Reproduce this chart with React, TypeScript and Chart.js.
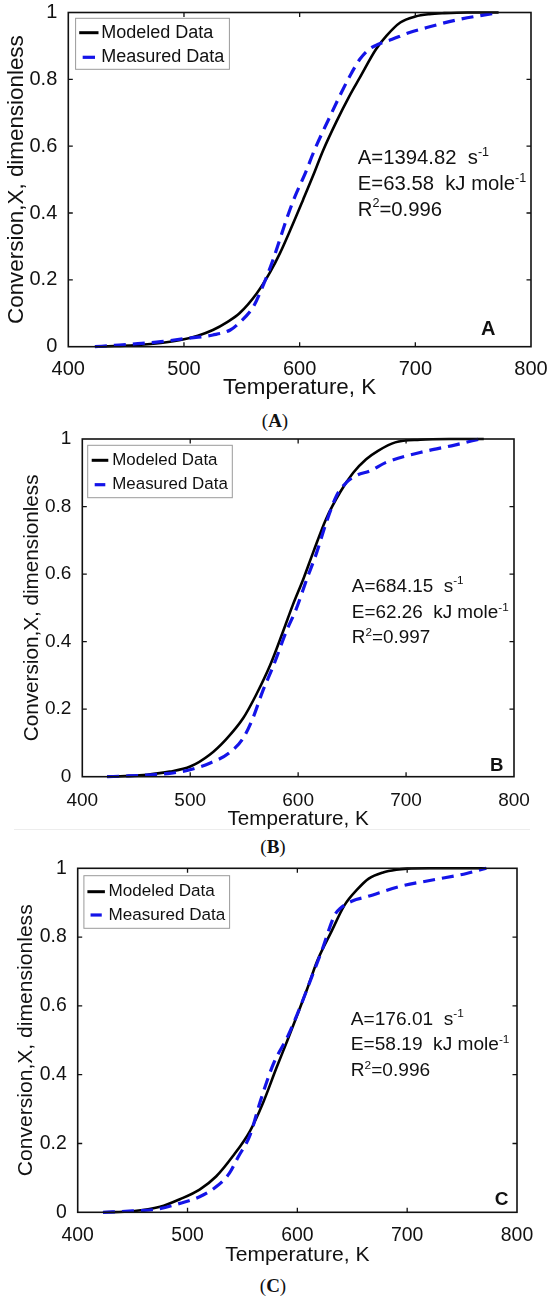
import React, { useEffect, useRef } from 'react';
import { Chart, registerables } from 'chart.js';

Chart.register(...registerables);

// ---------------- data ----------------
const seriesNames = ['Modeled Data', 'Measured Data'];
const xTicks = [400, 500, 600, 700, 800];
const yTicks = [0, 0.2, 0.4, 0.6, 0.8, 1];
const xTitle = 'Temperature, K';
const yTitle = 'Conversion,X, dimensionless';
const panelLetters = ['A', 'B', 'C'];
const paramA = ['1394.82', '684.15', '176.01'];
const paramE = ['63.58', '62.26', '58.19'];
const paramR2 = ['0.996', '0.997', '0.996'];

// Panel A
const tempModeledA = [423, 440, 460, 480, 497, 512, 525, 537, 548, 563, 574, 583, 592, 603, 612, 620, 632, 643, 652, 666, 675, 687, 700, 712, 725, 745, 772];
const convModeledA = [0, 0.002, 0.005, 0.011, 0.02, 0.033, 0.05, 0.073, 0.1, 0.16, 0.22, 0.28, 0.35, 0.44, 0.515, 0.585, 0.675, 0.75, 0.805, 0.89, 0.93, 0.97, 0.988, 0.995, 0.998, 1, 1];
const tempMeasuredA = [423, 440, 460, 480, 500, 525, 540, 548, 560, 568, 577, 589, 596, 605, 613, 625, 636, 645, 652, 660, 668, 680, 695, 710, 736, 772];
const convMeasuredA = [0, 0.004, 0.009, 0.015, 0.024, 0.035, 0.05, 0.072, 0.12, 0.18, 0.26, 0.385, 0.45, 0.52, 0.59, 0.68, 0.76, 0.82, 0.86, 0.89, 0.905, 0.92, 0.94, 0.955, 0.978, 1];

// Panel B
const tempModeledB = [423, 440, 460, 481, 500, 518, 533, 549, 561, 574, 586, 595, 605, 614, 626, 639, 651, 663, 674, 690, 713, 740, 772];
const convModeledB = [0, 0.002, 0.006, 0.015, 0.03, 0.065, 0.11, 0.173, 0.242, 0.33, 0.43, 0.508, 0.587, 0.665, 0.764, 0.843, 0.9, 0.94, 0.965, 0.99, 0.998, 1, 1];
const tempMeasuredB = [423, 440, 460, 481, 499, 518, 536, 549, 558, 567, 577, 589, 598, 608, 617, 626, 636, 645, 654, 667, 681, 713, 745, 768];
const convMeasuredB = [0, 0.002, 0.005, 0.01, 0.02, 0.04, 0.07, 0.114, 0.173, 0.252, 0.328, 0.43, 0.495, 0.585, 0.662, 0.752, 0.835, 0.872, 0.892, 0.906, 0.93, 0.96, 0.982, 1];

// Panel C
const tempModeledC = [423, 450, 475, 493, 511, 526, 541, 557, 569, 581, 591, 600, 609, 618, 631, 643, 655, 665, 678, 690, 700, 720, 772];
const convModeledC = [0, 0.003, 0.016, 0.038, 0.066, 0.104, 0.162, 0.237, 0.32, 0.42, 0.5, 0.574, 0.65, 0.73, 0.816, 0.893, 0.94, 0.97, 0.988, 0.996, 0.999, 1, 1];
const tempMeasuredC = [423, 450, 472, 493, 511, 526, 538, 546, 557, 566, 578, 591, 603, 612, 622, 634, 639, 650, 663, 693, 723, 754, 772];
const convMeasuredC = [0, 0.004, 0.009, 0.026, 0.045, 0.074, 0.113, 0.16, 0.225, 0.32, 0.43, 0.51, 0.6, 0.675, 0.758, 0.864, 0.883, 0.905, 0.917, 0.947, 0.966, 0.985, 1];

const modeledT = [tempModeledA, tempModeledB, tempModeledC];
const modeledX = [convModeledA, convModeledB, convModeledC];
const measuredT = [tempMeasuredA, tempMeasuredB, tempMeasuredC];
const measuredX = [convMeasuredA, convMeasuredB, convMeasuredC];

// ---------------- layout / style ----------------
const FAMILY = '"Liberation Sans", Arial, Helvetica, sans-serif';
const SERIF = '"Liberation Serif", "Times New Roman", serif';
const INK = '#111';
const BLUE = '#1414e8';

type Layout = {
  top: number; h: number; left: number; right: number; plotTop: number; plotBottom: number;
  tickY: number; titleY: number; yTitleX: number; captionY: number; captionX: number;
  fs: { tick: number; title: number; legend: number; note: number; letter: number };
  lg: { x: number; y: number; w: number; h: number; r1: number; r2: number; l0: number; l1: number; tx: number };
  noteT: number; noteY: number[]; letterT: number; letterY: number;
};

const LAYOUT: Layout[] = [
  {
    top: 0, h: 404, left: 68.3, right: 531, plotTop: 12.5, plotBottom: 346.7,
    tickY: 369.5, titleY: 388, yTitleX: 16.5, captionY: 421, captionX: 275,
    fs: { tick: 20, title: 22.4, legend: 18, note: 20.3, letter: 20 },
    lg: { x: 7.3, y: 5.8, w: 153.8, h: 51, r1: 20.2, r2: 44.8, l0: 10.9, l1: 30.2, tx: 33 },
    noteT: 650.3, noteY: [0.5685, 0.4907, 0.4141], letterT: 763, letterY: 0.055,
  },
  {
    top: 425, h: 409, left: 82.3, right: 514, plotTop: 439, plotBottom: 776.7,
    tickY: 800.7, titleY: 819, yTitleX: 32, captionY: 847, captionX: 273,
    fs: { tick: 19, title: 20.7, legend: 16.9, note: 18.9, letter: 18.6 },
    lg: { x: 5.4, y: 6.3, w: 144.6, h: 52.4, r1: 21.3, r2: 45.7, l0: 9.4, l1: 26, tx: 30 },
    noteT: 649.7, noteY: [0.5677, 0.4886, 0.4146], letterT: 784, letterY: 0.036,
  },
  {
    top: 855, h: 415, left: 77.7, right: 517, plotTop: 868.3, plotBottom: 1212.3,
    tickY: 1235.7, titleY: 1255, yTitleX: 26, captionY: 1286, captionX: 273,
    fs: { tick: 19.4, title: 21.1, legend: 17.1, note: 19.1, letter: 19 },
    lg: { x: 6.2, y: 7.4, w: 145.7, h: 52.6, r1: 23.4, r2: 46.7, l0: 9.7, l1: 27.2, tx: 30.7 },
    noteT: 648.7, noteY: [0.564, 0.491, 0.4148], letterT: 786, letterY: 0.042,
  },
];

type Part = { t: string; sup?: boolean };

function drawRich(ctx: CanvasRenderingContext2D, x: number, yMid: number, parts: Part[], size: number) {
  let cx = x;
  const base = yMid + size * 0.355;
  ctx.textAlign = 'left';
  ctx.textBaseline = 'alphabetic';
  for (const p of parts) {
    const s = p.sup ? size * 0.62 : size;
    ctx.font = `${s}px ${FAMILY}`;
    const dy = p.sup ? -size * 0.4 : 0;
    ctx.fillText(p.t, cx, base + dy);
    cx += ctx.measureText(p.t).width;
  }
}

function makeDecor(L: Layout, idx: number) {
  return {
    id: 'decor' + idx,
    afterDatasetsDraw(chart: any) {
      const { ctx, chartArea: ca, scales } = chart;
      const xs = scales.x;
      const ys = scales.y;
      ctx.save();
      // box
      ctx.strokeStyle = INK;
      ctx.lineWidth = 1.6;
      ctx.setLineDash([]);
      ctx.strokeRect(ca.left, ca.top, ca.right - ca.left, ca.bottom - ca.top);
      // inward ticks
      const tl = 4.5;
      ctx.lineWidth = 1.3;
      ctx.beginPath();
      xs.ticks.forEach((t: any) => {
        if (t.value > xs.min && t.value < xs.max) {
          const px = xs.getPixelForValue(t.value);
          ctx.moveTo(px, ca.bottom); ctx.lineTo(px, ca.bottom - tl);
          ctx.moveTo(px, ca.top); ctx.lineTo(px, ca.top + tl);
        }
      });
      ys.ticks.forEach((t: any) => {
        if (t.value > ys.min && t.value < ys.max) {
          const py = ys.getPixelForValue(t.value);
          ctx.moveTo(ca.left, py); ctx.lineTo(ca.left + tl, py);
          ctx.moveTo(ca.right, py); ctx.lineTo(ca.right - tl, py);
        }
      });
      ctx.stroke();

      // legend
      const g = L.lg;
      const lx = ca.left + g.x;
      const ly = ca.top + g.y;
      ctx.fillStyle = '#fff';
      ctx.fillRect(lx, ly, g.w, g.h);
      ctx.strokeStyle = '#9a9a9a';
      ctx.lineWidth = 1;
      ctx.strokeRect(lx, ly, g.w, g.h);
      const r1 = ca.top + g.r1;
      const r2 = ca.top + g.r2;
      ctx.lineCap = 'butt';
      ctx.strokeStyle = '#000';
      ctx.lineWidth = 3;
      ctx.beginPath();
      ctx.moveTo(ca.left + g.l0, r1); ctx.lineTo(ca.left + g.l1, r1);
      ctx.stroke();
      const span = g.l1 - g.l0;
      const dashLen = span * 0.64;
      const c0 = ca.left + g.l0 + (span - dashLen) / 2;
      ctx.strokeStyle = BLUE;
      ctx.lineWidth = 3.2;
      ctx.beginPath();
      ctx.moveTo(c0, r2); ctx.lineTo(c0 + dashLen, r2);
      ctx.stroke();
      ctx.fillStyle = INK;
      ctx.font = `${L.fs.legend}px ${FAMILY}`;
      ctx.textAlign = 'left';
      ctx.textBaseline = 'middle';
      ctx.fillText(seriesNames[0], ca.left + g.tx, r1);
      ctx.fillText(seriesNames[1], ca.left + g.tx, r2);

      // annotation
      const nx = xs.getPixelForValue(L.noteT);
      const fsN = L.fs.note;
      drawRich(ctx, nx, ys.getPixelForValue(L.noteY[0]), [{ t: `A=${paramA[idx]}  s` }, { t: '-1', sup: true }], fsN);
      drawRich(ctx, nx, ys.getPixelForValue(L.noteY[1]), [{ t: `E=${paramE[idx]}  kJ mole` }, { t: '-1', sup: true }], fsN);
      drawRich(ctx, nx, ys.getPixelForValue(L.noteY[2]), [{ t: 'R' }, { t: '2', sup: true }, { t: `=${paramR2[idx]}` }], fsN);

      // panel letter
      ctx.font = `bold ${L.fs.letter}px ${FAMILY}`;
      ctx.textAlign = 'center';
      ctx.textBaseline = 'alphabetic';
      ctx.fillText(panelLetters[idx], xs.getPixelForValue(L.letterT), ys.getPixelForValue(L.letterY) + L.fs.letter * 0.358);
      ctx.restore();
    },
  };
}

function Panel({ idx }: { idx: number }) {
  const ref = useRef<HTMLCanvasElement | null>(null);
  const L = LAYOUT[idx];
  useEffect(() => {
    if (!ref.current) return;
    const plotTopRel = L.plotTop - L.top;
    const plotBottomRel = L.plotBottom - L.top;
    const xAxisH = L.h - plotBottomRel;
    const xTickPad = L.tickY - L.plotBottom - L.fs.tick / 2;
    const xTitlePadBottom = L.h - (L.titleY - L.top) - 0.6 * L.fs.title;
    const yTitlePadTop = L.yTitleX - 0.6 * L.fs.title;
    const chart = new Chart(ref.current, {
      type: 'line',
      data: {
        datasets: [
          {
            label: seriesNames[0],
            data: modeledT[idx].map((t, i) => ({ x: t, y: modeledX[idx][i] })),
            borderColor: '#000',
            borderWidth: 2.6,
            pointRadius: 0,
            cubicInterpolationMode: 'monotone',
            fill: false,
            clip: false as any,
            order: 1,
          },
          {
            label: seriesNames[1],
            data: measuredT[idx].map((t, i) => ({ x: t, y: measuredX[idx][i] })),
            borderColor: BLUE,
            borderWidth: 3.2,
            borderDash: [12, 7],
            pointRadius: 0,
            cubicInterpolationMode: 'monotone',
            fill: false,
            clip: false as any,
            order: 0,
          },
        ],
      },
      options: {
        animation: false,
        responsive: false,
        events: [],
        layout: { padding: { left: 0, right: 550 - L.right, top: plotTopRel, bottom: 0 } },
        plugins: { legend: { display: false }, tooltip: { enabled: false } },
        scales: {
          x: {
            type: 'linear',
            min: 400,
            max: 800,
            afterBuildTicks: (ax: any) => { ax.ticks = xTicks.map((v) => ({ value: v })); },
            afterFit: (ax: any) => {
              ax.height = xAxisH;
              ax.paddingLeft = 0; ax.paddingRight = 0; ax.paddingTop = 0; ax.paddingBottom = 0;
            },
            grid: { display: false, drawTicks: false },
            border: { display: false },
            ticks: {
              color: INK,
              font: { family: FAMILY, size: L.fs.tick, lineHeight: 1 },
              padding: xTickPad,
              maxRotation: 0,
              autoSkip: false,
              callback: (v: any) => String(v),
            },
            title: {
              display: true,
              text: xTitle,
              color: INK,
              font: { family: FAMILY, size: L.fs.title, lineHeight: 1.2 },
              padding: { top: 0, bottom: xTitlePadBottom },
            },
          },
          y: {
            type: 'linear',
            min: 0,
            max: 1,
            afterBuildTicks: (ax: any) => { ax.ticks = yTicks.map((v) => ({ value: v })); },
            afterFit: (ax: any) => {
              ax.width = L.left;
              ax.paddingLeft = 0; ax.paddingRight = 0; ax.paddingTop = 0; ax.paddingBottom = 0;
            },
            grid: { display: false, drawTicks: false },
            border: { display: false },
            ticks: {
              color: INK,
              font: { family: FAMILY, size: L.fs.tick, lineHeight: 1 },
              padding: 11,
              autoSkip: false,
              callback: (v: any) => String(v),
            },
            title: {
              display: true,
              text: yTitle,
              color: INK,
              font: { family: FAMILY, size: L.fs.title, lineHeight: 1.2 },
              padding: { top: yTitlePadTop, bottom: 0 },
            },
          },
        },
      },
      plugins: [makeDecor(L, idx)],
    } as any);
    return () => chart.destroy();
  }, [idx]);

  return (
    <>
      <canvas
        ref={ref}
        width={550}
        height={L.h}
        style={{ position: 'absolute', left: 0, top: L.top, width: 550, height: L.h }}
      />
      <div
        style={{
          position: 'absolute',
          left: L.captionX - 40,
          width: 80,
          top: L.captionY - 10.2,
          textAlign: 'center',
          fontFamily: SERIF,
          fontSize: 19,
          lineHeight: '19px',
          color: INK,
        }}
      >
        (<b>{panelLetters[idx]}</b>)
      </div>
    </>
  );
}

export default function App() {
  return (
    <div style={{ position: 'absolute', left: 0, top: 0, width: 550, height: 1303, background: '#fff', overflow: 'hidden' }}>
      <Panel idx={0} />
      <Panel idx={1} />
      <div style={{ position: 'absolute', left: 14, top: 829, width: 516, height: 1, background: '#ededed' }} />
      <Panel idx={2} />
    </div>
  );
}
